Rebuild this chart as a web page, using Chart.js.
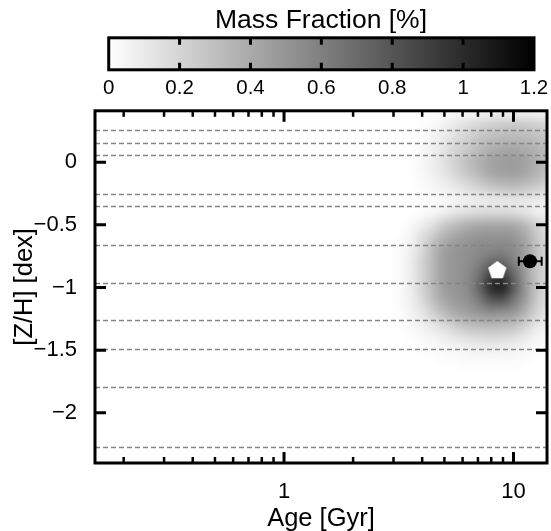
<!DOCTYPE html>
<html><head><meta charset="utf-8">
<script src="https://cdn.jsdelivr.net/npm/chart.js@4/dist/chart.umd.min.js"></script>
<style>html,body{margin:0;padding:0;background:#fff;}#wrap{width:551px;height:531px;}</style>
</head><body><div id="wrap"><canvas id="c" width="551" height="531"></canvas></div>
<script>
// ---- data ----
const logAgeCenters = [0.45,0.50,0.55,0.60,0.65,0.70,0.75,0.80,0.85,0.90,0.95,1.00,1.05,1.10,1.15];
const zCenters = [0.4,0.3,0.2,0.1,0.0,-0.1,-0.2,-0.3,-0.4,-0.5,-0.6,-0.7,-0.8,-0.9,-1.0,-1.1,-1.2,-1.3,-1.4,-1.5,-1.6,-1.7];
const massFraction = [
  [0,0,0,0,0.01,0.02,0.03,0.04,0.05,0.06,0.07,0.07,0.07,0.06,0.05],
  [0,0,0,0.01,0.03,0.06,0.11,0.15,0.19,0.22,0.24,0.25,0.24,0.22,0.18],
  [0,0,0,0.02,0.05,0.10,0.16,0.21,0.27,0.30,0.32,0.33,0.32,0.30,0.25],
  [0,0,0,0.03,0.07,0.13,0.20,0.26,0.33,0.38,0.41,0.42,0.40,0.36,0.30],
  [0,0,0,0.04,0.08,0.15,0.22,0.30,0.37,0.43,0.46,0.47,0.44,0.38,0.31],
  [0,0,0,0.03,0.07,0.12,0.19,0.26,0.33,0.40,0.43,0.44,0.41,0.35,0.28],
  [0,0,0,0.02,0.04,0.07,0.11,0.16,0.21,0.26,0.29,0.30,0.28,0.24,0.18],
  [0,0,0,0.01,0.02,0.03,0.05,0.07,0.09,0.10,0.11,0.12,0.11,0.10,0.07],
  [0,0,0,0.02,0.04,0.08,0.12,0.15,0.17,0.18,0.18,0.16,0.13,0.08,0.05],
  [0,0,0.03,0.08,0.15,0.25,0.32,0.37,0.40,0.41,0.41,0.40,0.33,0.22,0.13],
  [0,0.01,0.05,0.15,0.26,0.37,0.44,0.48,0.51,0.52,0.52,0.50,0.42,0.27,0.16],
  [0,0.02,0.07,0.18,0.33,0.45,0.50,0.52,0.55,0.57,0.58,0.55,0.45,0.30,0.18],
  [0,0.02,0.08,0.20,0.34,0.46,0.50,0.53,0.60,0.70,0.72,0.60,0.45,0.28,0.17],
  [0,0.02,0.08,0.20,0.34,0.46,0.50,0.55,0.67,0.88,0.93,0.72,0.48,0.28,0.17],
  [0,0.02,0.08,0.20,0.34,0.46,0.50,0.55,0.72,0.98,1.05,0.78,0.50,0.28,0.16],
  [0,0.02,0.07,0.17,0.30,0.42,0.48,0.52,0.62,0.78,0.80,0.65,0.46,0.26,0.15],
  [0,0.01,0.05,0.12,0.22,0.33,0.40,0.45,0.50,0.53,0.52,0.48,0.36,0.20,0.11],
  [0,0,0.03,0.07,0.12,0.18,0.25,0.30,0.33,0.34,0.33,0.30,0.22,0.12,0.06],
  [0,0,0.01,0.03,0.05,0.08,0.12,0.15,0.17,0.18,0.17,0.15,0.10,0.05,0.03],
  [0,0,0,0.01,0.02,0.03,0.04,0.05,0.06,0.07,0.06,0.05,0.04,0.02,0.01],
  [0,0,0,0,0,0.01,0.01,0.02,0.02,0.02,0.02,0.02,0.01,0,0],
  [0,0,0,0,0,0,0,0,0,0,0,0,0,0,0]
];
const milesZ = [0.26,0.15,0.06,-0.25,-0.35,-0.66,-0.96,-1.26,-1.49,-1.79,-2.27];
const pentAge = [8.5];
const pentZ = [-0.86];
const obsAge = [11.8];
const obsZ = [-0.79];
const obsAgeLo = [10.55];
const obsAgeHi = [13.27];
const cbTicks = [0,0.2,0.4,0.6,0.8,1.0,1.2];
const cbTickLabels = ['0','0.2','0.4','0.6','0.8','1','1.2'];
const yTicks = [0,-0.5,-1,-1.5,-2];
const yTickLabels = ['0','\u22120.5','\u22121','\u22121.5','\u22122'];
const xMajor = [1,10];
const xMajorLabels = ['1','10'];
const xMinor = [0.2,0.3,0.4,0.5,0.6,0.7,0.8,0.9,2,3,4,5,6,7,8,9];
const CB_MAX = 1.2;
// colour-bar axis spans the plot width; its range is widened so that 0..1.2 covers the bar
const CB_AXIS_MIN = -0.0387;
const CB_AXIS_MAX = 1.2367;

// ---- rendering ----
Chart.defaults.font.family = "'Liberation Sans', Arial, Helvetica, sans-serif";
Chart.defaults.color = '#000';

const pent = document.createElement('canvas');
pent.width = 22; pent.height = 22;
(function(){
  const p = pent.getContext('2d'); const R = 9.6, cx = 11, cy = 11.6;
  p.beginPath();
  for (let k = 0; k < 5; k++) {
    const a = -Math.PI/2 + k*2*Math.PI/5;
    const px = cx + R*Math.cos(a), py = cy + R*Math.sin(a);
    k ? p.lineTo(px,py) : p.moveTo(px,py);
  }
  p.closePath(); p.fillStyle = '#fff'; p.fill();
})();

const noPad = s => { s.paddingLeft = 0; s.paddingRight = 0; s.paddingTop = 0; s.paddingBottom = 0; };

const underlay = {
  id: 'underlay',
  beforeDatasetsDraw(chart) {
    const {ctx, chartArea: a, scales} = chart;
    const x = scales.x, y = scales.y, cb = scales.cb;
    // heatmap
    const nx = logAgeCenters.length, ny = zCenters.length;
    const off = document.createElement('canvas'); off.width = nx; off.height = ny;
    const oc = off.getContext('2d'); const img = oc.createImageData(nx, ny);
    for (let j = 0; j < ny; j++) for (let i = 0; i < nx; i++) {
      const v = Math.min(massFraction[j][i], CB_MAX);
      const g = Math.round(255*(1 - v/CB_MAX));
      const k = 4*(j*nx + i);
      img.data[k] = g; img.data[k+1] = g; img.data[k+2] = g; img.data[k+3] = 255;
    }
    oc.putImageData(img, 0, 0);
    const dx = logAgeCenters[1]-logAgeCenters[0], dz = zCenters[0]-zCenters[1];
    const x0 = x.getPixelForValue(Math.pow(10, logAgeCenters[0]-dx/2));
    const x1 = x.getPixelForValue(Math.pow(10, logAgeCenters[nx-1]+dx/2));
    const y0 = y.getPixelForValue(zCenters[0]+dz/2);
    const y1 = y.getPixelForValue(zCenters[ny-1]-dz/2);
    ctx.save();
    ctx.beginPath(); ctx.rect(a.left, a.top, a.right-a.left, a.bottom-a.top); ctx.clip();
    ctx.imageSmoothingEnabled = true; ctx.imageSmoothingQuality = 'high';
    ctx.drawImage(off, x0, y0, x1-x0, y1-y0);
    // MILES metallicity grid lines
    ctx.strokeStyle = '#858585'; ctx.lineWidth = 1.5; ctx.setLineDash([5,3]);
    milesZ.forEach(z => {
      const py = Math.round(y.getPixelForValue(z)) + 0.5;
      ctx.beginPath(); ctx.moveTo(a.left, py); ctx.lineTo(a.right, py); ctx.stroke();
    });
    ctx.setLineDash([]);
    // error bars
    ctx.strokeStyle = '#000'; ctx.lineWidth = 2;
    obsAge.forEach((ag, i) => {
      const py = y.getPixelForValue(obsZ[i]);
      const xl = x.getPixelForValue(obsAgeLo[i]), xr = x.getPixelForValue(obsAgeHi[i]);
      ctx.beginPath(); ctx.moveTo(xl, py); ctx.lineTo(xr, py);
      ctx.moveTo(xl, py-4.5); ctx.lineTo(xl, py+4.5);
      ctx.moveTo(xr, py-4.5); ctx.lineTo(xr, py+4.5);
      ctx.stroke();
    });
    ctx.restore();
    // frame and ticks
    ctx.save();
    ctx.strokeStyle = '#000'; ctx.lineCap = 'butt';
    ctx.lineWidth = 2.5;
    const tick = (px, len, top) => {
      ctx.beginPath();
      if (top) { ctx.moveTo(px, a.top); ctx.lineTo(px, a.top+len); }
      else { ctx.moveTo(px, a.bottom); ctx.lineTo(px, a.bottom-len); }
      ctx.stroke();
    };
    xMinor.forEach(v => { const px = x.getPixelForValue(v); tick(px,6,true); tick(px,6,false); });
    ctx.lineWidth = 3;
    xMajor.forEach(v => { const px = x.getPixelForValue(v); tick(px,11,true); tick(px,11,false); });
    yTicks.forEach(v => {
      const py = y.getPixelForValue(v);
      ctx.beginPath(); ctx.moveTo(a.left, py); ctx.lineTo(a.left+11, py);
      ctx.moveTo(a.right, py); ctx.lineTo(a.right-11, py); ctx.stroke();
    });
    ctx.lineWidth = 3;
    ctx.strokeRect(a.left, a.top, a.right-a.left, a.bottom-a.top);
    // colour bar
    const cl = cb.getPixelForValue(0), cr = cb.getPixelForValue(CB_MAX);
    const ct = cb.top - 33, cbm = cb.top - 1;
    const grad = ctx.createLinearGradient(cl, 0, cr, 0);
    grad.addColorStop(0, '#ffffff'); grad.addColorStop(1, '#000000');
    ctx.fillStyle = grad; ctx.fillRect(cl, ct, cr-cl, cbm-ct);
    ctx.lineWidth = 3;
    cbTicks.forEach(v => {
      if (v <= 0 || v >= CB_MAX) return;
      const px = cb.getPixelForValue(v);
      ctx.beginPath(); ctx.moveTo(px, ct); ctx.lineTo(px, ct+7);
      ctx.moveTo(px, cbm); ctx.lineTo(px, cbm-7); ctx.stroke();
    });
    ctx.strokeRect(cl, ct, cr-cl, cbm-ct);
    ctx.restore();
  }
};

new Chart(document.getElementById('c'), {
  type: 'scatter',
  data: { datasets: [
    { label: 'pentagon', data: pentAge.map((a,i)=>({x:a, y:pentZ[i]})), pointStyle: pent, pointRadius: 10, clip: false },
    { label: 'observed', data: obsAge.map((a,i)=>({x:a, y:obsZ[i]})), pointStyle: 'circle', pointRadius: 7,
      backgroundColor: '#000', borderColor: '#000', borderWidth: 0, clip: false }
  ]},
  options: {
    responsive: false, animation: false, devicePixelRatio: 1,
    layout: { autoPadding: false, padding: { left: 0, right: 4, top: 0, bottom: 0 } },
    plugins: {
      legend: { display: false }, tooltip: { enabled: false },
      title: { display: true, text: 'Mass Fraction [%]', fullSize: false, color: '#000',
        font: { size: 26.5, weight: 'normal' }, padding: { top: 5, bottom: 34 } }
    },
    scales: {
      x: { type: 'logarithmic', position: 'bottom', min: 0.15, max: 14,
        grid: { display: false, drawTicks: false }, border: { display: false },
        afterBuildTicks: s => { s.ticks = xMajor.map(v => ({ value: v })); },
        ticks: { autoSkip: false, maxRotation: 0, padding: 16, font: { size: 22 },
          callback: (v, i) => xMajorLabels[i] },
        title: { display: true, text: 'Age [Gyr]', font: { size: 25.5 }, padding: { top: 0, bottom: -3 } },
        afterFit: s => { s.height = 68; noPad(s); } },
      cb: { type: 'linear', axis: 'x', position: 'top', min: CB_AXIS_MIN, max: CB_AXIS_MAX,
        grid: { display: false, drawTicks: false }, border: { display: false },
        afterBuildTicks: s => { s.ticks = cbTicks.map(v => ({ value: v })); },
        ticks: { autoSkip: false, maxRotation: 0, padding: 10, font: { size: 20.5 },
          callback: (v, i) => cbTickLabels[i] },
        afterFit: s => { s.height = 40; noPad(s); } },
      y: { type: 'linear', min: -2.4, max: 0.41,
        grid: { display: false, drawTicks: false }, border: { display: false },
        afterBuildTicks: s => { s.ticks = yTicks.map(v => ({ value: v })); },
        ticks: { autoSkip: false, padding: 18, font: { size: 22 },
          callback: (v, i) => yTickLabels[i] },
        title: { display: true, text: '[Z/H] [dex]', font: { size: 25.5 }, padding: 10 },
        afterFit: s => { s.width = 95; noPad(s); } }
    }
  },
  plugins: [underlay]
});
</script></body></html>
